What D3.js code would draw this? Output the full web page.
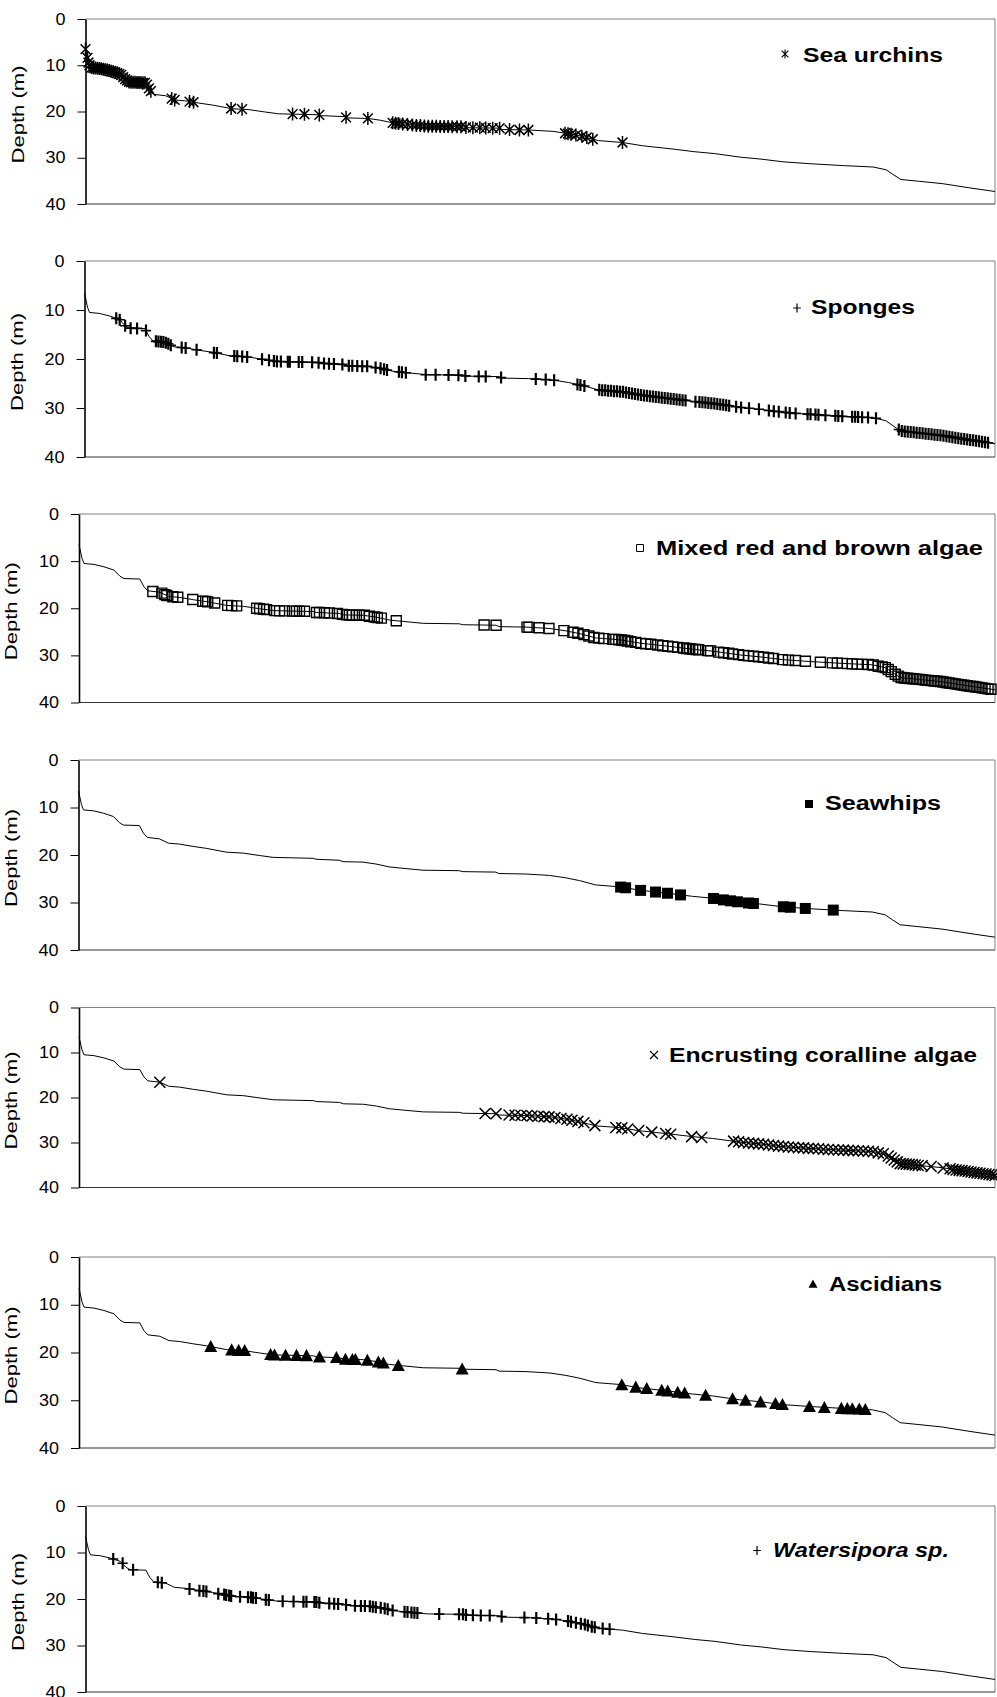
<!DOCTYPE html>
<html><head><meta charset="utf-8">
<script src="https://cdn.jsdelivr.net/npm/d3@7"></script>
<style>body{margin:0;background:#fff}svg{display:block}</style>
</head><body>
<svg id="chart" width="997" height="1697"></svg>
<script>
// ---------- DATA ----------
const yTicks = [0, 10, 20, 30, 40];
const seriesNames = ["Sea urchins", "Sponges", "Mixed red and brown algae", "Seawhips",
  "Encrusting coralline algae", "Ascidians", "Watersipora sp."];

// depth profile: [sample index, depth (m)]
const profile = [[0,6.5],[3,9.4],[5,10.5],[15,10.7],[25,11.2],[35,11.9],[41,13.2],[45,13.7],[61,13.8],[65,15.4],[69,16.3],[81,16.6],[90,17.5],[101,17.7],[115,18.2],[128,18.6],[148,19.4],[165,19.6],[181,20.1],[195,20.5],[235,20.7],[238,20.9],[261,21.1],[265,21.4],[285,21.5],[298,21.9],[311,22.5],[325,22.8],[345,23.2],[381,23.3],[385,23.5],[418,23.6],[421,23.9],[448,24.0],[472,24.3],[488,24.8],[502,25.4],[518,26.3],[542,26.7],[562,27.4],[592,28.1],[615,28.7],[635,29.1],[662,29.9],[682,30.3],[705,30.9],[732,31.3],[765,31.7],[795,32.0],[808,32.6],[815,33.6],[823,34.7],[842,35.1],[865,35.6],[892,36.5],[918,37.3]];

const seaUrchins = [[0,6.5],[2,8.4],[3,9.4],[4,10.0],[6,10.5],[8,10.6],[10,10.6],[12,10.65],[14,10.7],[16,10.75],[18,10.85],[20,10.95],[22,11.05],[24,11.15],[26,11.3],[28,11.4],[30,11.55],[32,11.7],[34,11.85],[36,12.1],[38,12.55],[40,13.0],[42,13.3],[44,13.6],[46,13.7],[48,13.7],[50,13.7],[52,13.75],[54,13.75],[56,13.75],[58,13.8],[60,13.8],[62,14.2],[64,15.0],[66,15.6],[87,17.2],[90,17.5],[105,17.85],[109,18.0],[147,19.35],[158,19.5],[209,20.55],[221,20.6],[236,20.75],[263,21.25],[285,21.5],[310,22.45],[313,22.55],[316,22.6],[320,22.7],[325,22.8],[330,22.9],[334,23.0],[338,23.05],[342,23.15],[346,23.2],[350,23.2],[354,23.2],[358,23.25],[362,23.25],[366,23.25],[370,23.3],[375,23.3],[379,23.3],[384,23.45],[391,23.5],[398,23.5],[404,23.55],[411,23.6],[418,23.6],[428,23.9],[438,24.0],[447,24.0],[484,24.7],[487,24.8],[490,24.9],[495,25.1],[501,25.35],[506,25.6],[512,26.0],[542,26.7]];

const sponges = [[32,11.7],[35.5,12.0],[41,13.2],[46.5,13.7],[53,13.75],[62,14.2],[72,16.4],[74.5,16.45],[77,16.5],[79.5,16.55],[82,16.7],[84.5,16.9],[87,17.2],[98,17.65],[102,17.75],[113,18.1],[130.5,18.7],[133.5,18.8],[151,19.4],[154,19.45],[159,19.5],[164,19.6],[179,20.05],[186,20.25],[191,20.4],[194,20.5],[198,20.5],[205,20.55],[207,20.55],[216,20.6],[219.5,20.6],[229.5,20.65],[236,20.75],[241.5,20.9],[246.5,20.95],[251.5,21.0],[260,21.1],[266.5,21.4],[270,21.4],[275,21.45],[280,21.5],[285,21.5],[293.5,21.75],[298.5,21.9],[302,22.1],[305,22.25],[317,22.6],[320,22.7],[324,22.8],[344,23.2],[354,23.2],[367,23.25],[377,23.3],[384,23.45],[397.5,23.55],[404.5,23.55],[420,23.8],[455,24.1],[465,24.2],[473.5,24.35],[497,25.2],[500,25.3],[504,25.5],[519,26.3],[522,26.4],[525,26.4],[528,26.5],[531,26.5],[534,26.6],[537,26.6],[540,26.7],[543,26.7],[546,26.85],[549,26.95],[552,27.05],[555,27.15],[558,27.25],[561,27.35],[564,27.45],[567,27.5],[570,27.6],[573,27.65],[576,27.75],[579,27.8],[582,27.9],[585,27.95],[588,28.0],[591,28.1],[594,28.15],[597,28.25],[600,28.3],[603,28.4],[606,28.45],[616,28.7],[620,28.8],[623,28.85],[626,28.9],[629,29.0],[632,29.05],[635,29.1],[638,29.2],[641,29.3],[644,29.35],[647,29.45],[650,29.55],[657,29.75],[662,29.9],[670,30.05],[680,30.25],[690,30.5],[695,30.65],[700,30.75],[707,30.9],[711,31.0],[717,31.1],[729,31.25],[732,31.3],[737,31.35],[740,31.4],[747,31.5],[757,31.6],[760,31.65],[764,31.7],[774,31.8],[777,31.8],[780,31.85],[784,31.9],[790,31.95],[798,32.1],[821,34.4],[824,34.7],[827,34.8],[830,34.85],[833,34.9],[836,34.95],[839,35.05],[842,35.1],[845,35.15],[848,35.25],[851,35.3],[854,35.35],[857,35.45],[860,35.5],[863,35.55],[866,35.65],[869,35.75],[872,35.85],[875,35.95],[878,36.05],[881,36.15],[884,36.25],[887,36.35],[890,36.45],[893,36.55],[896,36.6],[899,36.7],[902,36.8],[905,36.9],[908,37.0],[911,37.1]];

const mixedAlgae = [[74,16.45],[83,16.8],[86,17.1],[88,17.3],[94,17.55],[99,17.65],[114,18.15],[124,18.5],[127,18.55],[129,18.65],[136,18.9],[149,19.4],[153,19.45],[158,19.5],[178,20.0],[181,20.1],[185,20.2],[188,20.3],[196,20.5],[201,20.55],[206,20.55],[214,20.6],[218,20.6],[221,20.65],[226,20.65],[238,20.9],[241,20.9],[246,20.95],[251,21.0],[259,21.1],[264,21.3],[268,21.4],[271,21.45],[274,21.45],[278,21.45],[281,21.5],[286,21.5],[291,21.7],[296,21.85],[299,21.95],[303,22.1],[318,22.65],[406,23.55],[418,23.6],[449,24.0],[451,24.05],[461,24.15],[471,24.3],[486,24.75],[495,25.1],[500,25.3],[506,25.6],[511,25.9],[516,26.2],[521,26.35],[526,26.45],[535,26.6],[538,26.6],[541,26.7],[544,26.75],[547,26.85],[550,26.95],[553,27.1],[558,27.25],[563,27.45],[568,27.55],[573,27.65],[580,27.8],[585,27.95],[590,28.05],[595,28.2],[600,28.3],[606,28.45],[609,28.55],[612,28.6],[615,28.7],[618,28.75],[621,28.8],[630,29.0],[633,29.05],[641,29.3],[646,29.45],[651,29.55],[655,29.7],[661,29.85],[666,30.0],[671,30.1],[676,30.2],[681,30.3],[686,30.4],[691,30.55],[696,30.65],[705,30.9],[711,31.0],[718,31.1],[728,31.25],[743,31.45],[755,31.6],[760,31.65],[765,31.7],[770,31.75],[775,31.8],[780,31.85],[785,31.9],[791,31.95],[796,32.05],[801,32.3],[805,32.45],[808,32.6],[811,33.0],[814,33.45],[818,34.0],[821,34.4],[824,34.7],[827,34.8],[830,34.85],[833,34.9],[836,34.95],[839,35.05],[842,35.1],[845,35.15],[848,35.25],[851,35.3],[854,35.35],[857,35.45],[860,35.5],[863,35.55],[866,35.65],[869,35.75],[872,35.85],[875,35.95],[878,36.05],[881,36.15],[884,36.25],[887,36.35],[890,36.45],[893,36.55],[896,36.6],[899,36.7],[902,36.8],[905,36.9],[908,37.0],[911,37.1],[914,37.2]];

const seawhips = [[543,26.75],[548,26.9],[563,27.45],[578,27.8],[590,28.05],[603,28.4],[636,29.15],[646,29.45],[653,29.65],[660,29.85],[671,30.1],[676,30.2],[706,30.9],[713,31.0],[728,31.25],[756,31.6]];

const encrustingAlgae = [[81,16.6],[407,23.55],[418,23.6],[431,23.9],[437,23.95],[443,24.0],[449,24.0],[454,24.1],[460,24.15],[466,24.25],[471,24.3],[477,24.45],[483,24.65],[489,24.85],[494,25.05],[500,25.3],[506,25.6],[517,26.25],[538,26.65],[544,26.75],[550,27.0],[561,27.35],[574,27.7],[588,28.0],[593,28.15],[614,28.7],[624,28.9],[656,29.7],[661,29.85],[666,30.0],[671,30.1],[676,30.2],[681,30.3],[686,30.4],[691,30.55],[696,30.65],[701,30.8],[706,30.9],[711,31.0],[716,31.05],[721,31.15],[726,31.2],[731,31.3],[736,31.35],[741,31.4],[746,31.5],[751,31.55],[756,31.6],[761,31.65],[766,31.7],[771,31.75],[776,31.8],[781,31.85],[786,31.9],[791,31.95],[796,32.05],[801,32.3],[806,32.5],[811,33.0],[814,33.45],[817,33.9],[820,34.3],[823,34.7],[826,34.75],[829,34.8],[832,34.85],[835,34.9],[838,35.0],[841,35.1],[845,35.15],[854,35.35],[866,35.65],[873,35.85],[876,36.0],[879,36.1],[882,36.2],[885,36.25],[888,36.35],[891,36.45],[894,36.55],[897,36.65],[900,36.75],[903,36.85],[906,36.95],[909,37.0],[912,37.1],[915,37.2],[918,37.3]];

const ascidians = [[132,18.75],[153,19.45],[160,19.55],[166,19.6],[192,20.4],[196,20.5],[207,20.55],[218,20.6],[228,20.65],[241,20.95],[258,21.05],[267,21.4],[274,21.45],[277,21.45],[289,21.6],[300,22.0],[305,22.2],[320,22.7],[384,23.45],[544,26.75],[558,27.25],[569,27.55],[584,27.9],[590,28.05],[600,28.3],[607,28.5],[628,28.95],[655,29.7],[668,30.0],[683,30.35],[698,30.7],[705,30.9],[732,31.3],[747,31.5],[764,31.7],[770,31.75],[775,31.8],[782,31.85],[788,31.95]];

const watersipora = [[28,11.4],[37.5,12.3],[48,13.7],[73,16.4],[77,16.5],[105,17.85],[115,18.2],[119,18.3],[122,18.4],[134,18.85],[140,19.05],[142,19.15],[145,19.25],[147,19.35],[156,19.5],[164,19.6],[167,19.65],[169,19.75],[172,19.8],[182,20.15],[185,20.2],[199,20.5],[210,20.55],[220,20.6],[223,20.6],[231,20.65],[233,20.65],[236,20.8],[246,20.95],[251,21.0],[255,21.05],[263,21.25],[272,21.45],[278,21.5],[282,21.5],[287,21.55],[290,21.65],[293,21.75],[298,21.9],[302,22.05],[305,22.2],[310,22.45],[322,22.75],[325,22.8],[329,22.9],[332,22.95],[335,23.0],[357,23.25],[377,23.3],[381,23.3],[384,23.45],[391,23.5],[399,23.55],[408,23.55],[420,23.75],[443,24.0],[455,24.1],[467,24.25],[475,24.4],[487,24.75],[490,24.9],[495,25.1],[500,25.3],[504,25.5],[507,25.7],[511,25.95],[514,26.1],[522,26.35],[529,26.5]];

// ---------- LAYOUT ----------
const sampleMax = 918;
const rightEdge = 995;
const FONT = "'Liberation Sans', Arial, Helvetica, sans-serif";
const panels = [
  {data: seaUrchins, marker: "asterisk", x0: 85.5, top: 19, bottom: 204,
   leg: {mx: 785, my: 54, tx: 803, ty: 61.5, tl: 140}},
  {data: sponges, marker: "plus", x0: 84.5, top: 261, bottom: 457,
   leg: {mx: 797, my: 308, tx: 811, ty: 314, tl: 104}},
  {data: mixedAlgae, marker: "square", x0: 79, top: 514, bottom: 702.5,
   leg: {mx: 640, my: 548, tx: 656, ty: 555, tl: 327}},
  {data: seawhips, marker: "filledSquare", x0: 78.5, top: 760, bottom: 950,
   leg: {mx: 809, my: 804, tx: 825, ty: 810, tl: 116}},
  {data: encrustingAlgae, marker: "times", x0: 79, top: 1007.5, bottom: 1187.5,
   leg: {mx: 654, my: 1055, tx: 669, ty: 1061.5, tl: 308}},
  {data: ascidians, marker: "triangle", x0: 79, top: 1257, bottom: 1448,
   leg: {mx: 813, my: 1284, tx: 829, ty: 1291, tl: 113}},
  {data: watersipora, marker: "plus", x0: 85.5, top: 1506, bottom: 1692, italic: true,
   leg: {mx: 757, my: 1550.5, tx: 773, ty: 1557, tl: 176}}
];

function markerPath(type, r, legend) {
  switch (type) {
    case "asterisk": { const a = r * 0.75;
      return `M0,${-r}V${r}M${-a},${-a}L${a},${a}M${-a},${a}L${a},${-a}`; }
    case "plus": {
      const vw = legend ? 0.6 : 1.1, hw = legend ? 0.6 : 0.8, hr = r * 0.85;
      return `M${-vw},${-r}H${vw}V${r}H${-vw}Z M${-hr},${-hw}H${hr}V${hw}H${-hr}Z`; }
    case "times": return `M${-r},${-r}L${r},${r}M${-r},${r}L${r},${-r}`;
    case "square": case "filledSquare": return `M${-r},${-r}H${r}V${r}H${-r}Z`;
    case "triangle": return `M0,${-r}L${r},${r*0.85}L${-r},${r*0.85}Z`;
  }
}
function markerStyle(sel, type, legend) {
  if (type === "filledSquare" || type === "triangle" || type === "plus") sel.attr("fill", "#000").attr("stroke", "none");
  else if (type === "square") sel.attr("fill", "none").attr("stroke", "#000").attr("stroke-width", legend ? 1 : 1.4);
  else sel.attr("fill", "none").attr("stroke", "#000").attr("stroke-width", legend ? 1.1 : 1.5);
}
const markerR = {asterisk: 6.5, plus: 6, times: 5.5, square: 5, filledSquare: 5.5, triangle: 6.5};
const legendR = {asterisk: 4.5, plus: 4.5, times: 4, square: 3.5, filledSquare: 4, triangle: 4.5};

const svg = d3.select("#chart");

panels.forEach((p, i) => {
  const x = d3.scaleLinear().domain([0, sampleMax]).range([p.x0, rightEdge]);
  const y = d3.scaleLinear().domain([0, 40]).range([p.top, p.bottom]);
  const g = svg.append("g");

  // frame (top / right gray, bottom dark)
  g.append("line").attr("x1", p.x0).attr("x2", rightEdge).attr("y1", p.top).attr("y2", p.top)
    .attr("stroke", "#808080").attr("stroke-width", 1);
  g.append("line").attr("x1", rightEdge).attr("x2", rightEdge).attr("y1", p.top).attr("y2", p.bottom)
    .attr("stroke", "#808080").attr("stroke-width", 1);
  g.append("line").attr("x1", p.x0).attr("x2", rightEdge).attr("y1", p.bottom).attr("y2", p.bottom)
    .attr("stroke", "#333").attr("stroke-width", 1.2);

  // y axis
  const axis = d3.axisLeft(y).tickValues(yTicks).tickSize(8).tickSizeOuter(0).tickPadding(12);
  const ag = g.append("g").attr("transform", `translate(${p.x0},0)`).call(axis);
  ag.select(".domain").attr("stroke", "#000").attr("stroke-width", 1.6);
  ag.selectAll(".tick line").attr("stroke", "#000").attr("stroke-width", 1);
  ag.selectAll(".tick text")
    .attr("font-family", FONT).attr("font-size", 16).attr("fill", "#000")
    .attr("textLength", d => String(d).length * 10).attr("lengthAdjust", "spacingAndGlyphs");

  // y label
  g.append("text")
    .attr("transform", `translate(${p.x0 - 62},${(p.top + p.bottom) / 2 + 3}) rotate(-90)`)
    .attr("text-anchor", "middle")
    .attr("font-family", FONT).attr("font-size", 16).attr("fill", "#000")
    .attr("textLength", 98).attr("lengthAdjust", "spacingAndGlyphs")
    .text("Depth (m)");

  // depth profile line
  const line = d3.line().x(d => x(d[0])).y(d => y(d[1]));
  g.append("path").datum(profile).attr("d", line)
    .attr("fill", "none").attr("stroke", "#000").attr("stroke-width", 1);

  // markers
  const mp = markerPath(p.marker, markerR[p.marker], false);
  g.append("g").selectAll("path").data(p.data).join("path")
    .attr("transform", d => `translate(${x(d[0])},${y(d[1])})`)
    .attr("d", mp)
    .call(s => markerStyle(s, p.marker, false));

  // legend
  const lp = markerPath(p.marker, legendR[p.marker], true);
  g.append("path").attr("transform", `translate(${p.leg.mx},${p.leg.my})`).attr("d", lp)
    .call(s => markerStyle(s, p.marker, true));
  g.append("text")
    .attr("x", p.leg.tx).attr("y", p.leg.ty)
    .attr("font-family", FONT).attr("font-size", 20).attr("font-weight", "bold")
    .attr("font-style", p.italic ? "italic" : "normal").attr("fill", "#000")
    .attr("textLength", p.leg.tl).attr("lengthAdjust", "spacingAndGlyphs")
    .text(seriesNames[i]);
});
</script>
</body></html>
